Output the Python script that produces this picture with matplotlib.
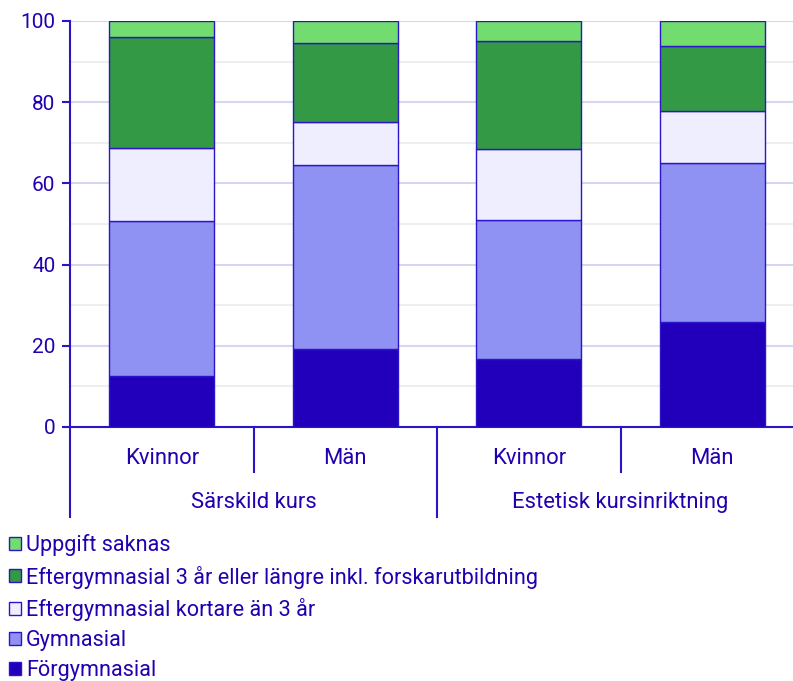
import matplotlib
matplotlib.use("Agg")
import numpy as np
from matplotlib import pyplot as plt
from matplotlib.patches import Patch

plt.rcParams['font.family'] = ['Roboto', 'DejaVu Sans']

groups = ["Särskild kurs", "Estetisk kursinriktning"]
sexes = ["Kvinnor", "Män", "Kvinnor", "Män"]

series_names = [
    "Förgymnasial",
    "Gymnasial",
    "Eftergymnasial kortare än 3 år",
    "Eftergymnasial 3 år eller längre inkl. forskarutbildning",
    "Uppgift saknas",
]
forgymnasial = [12.6, 19.3, 16.7, 25.9]
gymnasial = [38.2, 45.3, 34.3, 39.1]
kortare = [17.9, 10.5, 17.5, 12.8]
langre = [27.4, 19.4, 26.6, 16.0]
saknas = [3.9, 5.5, 4.9, 6.2]

colors = ["#2200bb", "#8f92f3", "#eeeeff", "#339944", "#72dd6e"]
edge = "#2a16c8"
txt = "#2200b0"

fig = plt.figure(figsize=(7.93, 6.81), dpi=100)
ax = fig.add_axes([70 / 793, 1 - 427 / 681, 1 - 70 / 793, 406 / 681])

x = np.arange(len(sexes))
bottom = np.zeros(len(sexes))
for name, vals, c in zip(series_names, [forgymnasial, gymnasial, kortare, langre, saknas], colors):
    ax.bar(x, vals, 0.57, bottom=bottom, color=c, edgecolor=edge, linewidth=1, zorder=3, label=name)
    bottom += np.array(vals)

ax.set_xlim(-0.5, 3.44)
ax.set_ylim(0, 100)
ax.set_yticks([0, 20, 40, 60, 80, 100])
ax.set_yticks(np.arange(10, 100, 20), minor=True)
ax.grid(axis='y', which='major', color="#d6d6f2", linewidth=1.5, zorder=0)
ax.grid(axis='y', which='minor', color="#eeeeee", linewidth=1.5, zorder=0)
ax.tick_params(axis='y', which='major', colors=edge, labelcolor=txt, labelsize=15, length=6, width=1.5, pad=4.5)
ax.tick_params(axis='y', which='minor', length=0)
ax.set_xticks([])
for s in ['top', 'right']:
    ax.spines[s].set_visible(False)
for s in ['left', 'bottom']:
    ax.spines[s].set_color(edge)
    ax.spines[s].set_linewidth(1.5)

trans = ax.get_xaxis_transform()
for i, lab in enumerate(sexes):
    ax.text(i, -0.077, lab, transform=trans, ha='center', va='center', fontsize=15.8, color=txt)
for xs in [0.5, 2.5]:
    ax.plot([xs, xs], [0, -0.111], transform=trans, color=edge, lw=1.5, clip_on=False)
for xs in [-0.5, 1.5]:
    ax.plot([xs, xs], [0, -0.222], transform=trans, color=edge, lw=1.5, clip_on=False)
for g, lab in enumerate(groups):
    ax.text(2 * g + 0.5, -0.185, lab, transform=trans, ha='center', va='center', fontsize=15.8, color=txt)

handles = [Patch(facecolor=c, edgecolor=edge, linewidth=1) for c in colors][::-1]
fig.legend(handles, series_names[::-1], loc='upper left', bbox_to_anchor=(0.003, 1 - 528 / 681),
           frameon=False, fontsize=15.6, labelcolor=txt, handlelength=0.55, handleheight=0.55,
           handletextpad=0.25, labelspacing=0.42, borderaxespad=0, borderpad=0.3)

fig.savefig("out.png", dpi=100)
